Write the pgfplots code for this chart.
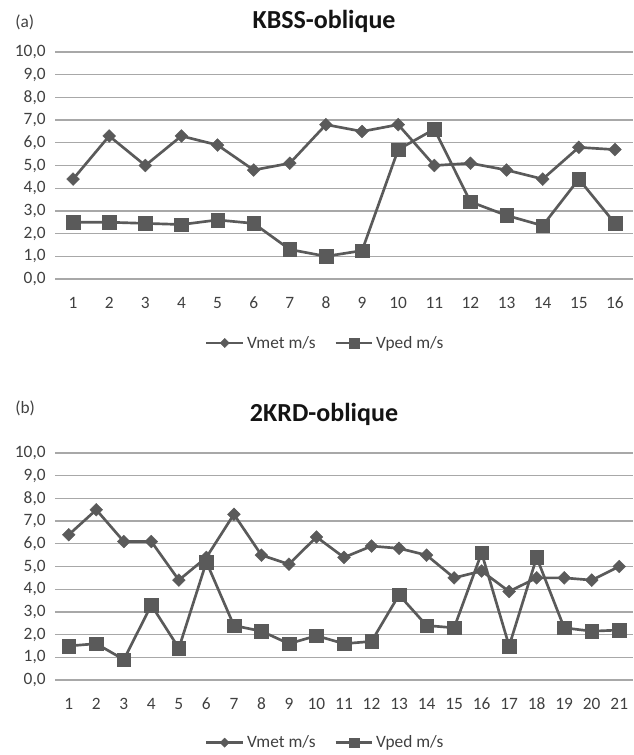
\documentclass[border=0pt]{standalone}
\usepackage{pgfplots}
\pgfplotsset{compat=1.18}
\usepackage{fontspec}
\setmainfont{Carlito}

\definecolor{serie}{HTML}{5A5A5A}
\definecolor{grille}{HTML}{A8A8A8}
\definecolor{texte}{HTML}{404040}

% KBSS-oblique
\pgfplotstableread{
n  vmet vped
1  4.4  2.5
2  6.3  2.5
3  5.0  2.45
4  6.3  2.4
5  5.9  2.6
6  4.8  2.45
7  5.1  1.3
8  6.8  1.0
9  6.5  1.25
10 6.8  5.7
11 5.0  6.6
12 5.1  3.4
13 4.8  2.8
14 4.4  2.35
15 5.8  4.4
16 5.7  2.45
}\kbss

% 2KRD-oblique
\pgfplotstableread{
n  vmet vped
1  6.4  1.5
2  7.5  1.6
3  6.1  0.9
4  6.1  3.3
5  4.4  1.4
6  5.4  5.2
7  7.3  2.4
8  5.5  2.15
9  5.1  1.6
10 6.3  1.95
11 5.4  1.6
12 5.9  1.7
13 5.8  3.75
14 5.5  2.4
15 4.5  2.3
16 4.8  5.6
17 3.9  1.5
18 4.5  5.4
19 4.5  2.3
20 4.4  2.15
21 5.0  2.2
}\krd

\pgfplotsset{
  panel/.style={
    scale only axis, anchor=south west,
    width=433.5pt, height=170.25pt,
    ymin=0, ymax=10, ytick={0,1,...,10},
    ymajorgrids, grid style={grille, line width=1pt},
    axis line style={draw=none},
    tick style={draw=none},
    xtick=data,
    enlarge x limits={abs=0.5},
    yticklabel style={/pgf/number format/fixed, /pgf/number format/fixed zerofill,
      /pgf/number format/precision=1, /pgf/number format/use comma},
    /pgf/number format/assume math mode=true,
    ticklabel style={font=\fontsize{13}{15}\selectfont, text=texte},
    xticklabel style={anchor=center, yshift=-17.8pt},
    yticklabel style={anchor=east, xshift=-3.5pt},
    legend columns=2,
    legend style={draw=none, fill=none, font=\fontsize{13}{15}\selectfont,
      text=texte, anchor=center, inner sep=0pt,
      nodes={inner xsep=2pt},
      /tikz/every even column/.append style={column sep=12pt}},
    legend image code/.code={
      \draw[##1, mark repeat=2, mark phase=2, every mark/.append style={scale=0.72}]
        plot coordinates {(0pt,0pt) (13.75pt,0pt) (27.5pt,0pt)};},
  },
  metline/.style={serie, line width=2pt, mark=square*, mark size=3.4pt,
    mark options={solid, rotate=45, fill=serie, draw=serie, line width=0.3pt}},
  pedline/.style={serie, line width=2pt, mark=square*, mark size=5.1pt,
    mark options={solid, fill=serie, draw=serie, line width=0.3pt}},
}

\begin{document}
\begin{tikzpicture}
\useasboundingbox (0,0) rectangle (474.75pt,-566.25pt);

% panel (a)
\begin{axis}[panel, at={(41.25pt,-209.25pt)}, xmin=1, xmax=16,
    legend style={at={(0.468,-0.282)}}]
  \addplot[metline] table[x=n, y=vmet] {\kbss};
  \addplot[pedline] table[x=n, y=vped] {\kbss};
  \legend{Vmet m/s, Vped m/s}
\end{axis}
\node[anchor=base, font=\fontsize{19.5}{22}\selectfont\bfseries, text=black!92] at (243pt,-21.2pt) {KBSS-oblique};
\node[anchor=base west, inner sep=0pt, font=\fontsize{13}{15}\selectfont, text=texte] at (11.25pt,-20.6pt) {(a)};

% panel (b)
\begin{axis}[panel, at={(41.25pt,-510pt)}, xmin=1, xmax=21,
    legend style={at={(0.468,-0.276)}}]
  \addplot[metline] table[x=n, y=vmet] {\krd};
  \addplot[pedline] table[x=n, y=vped] {\krd};
  \legend{Vmet m/s, Vped m/s}
\end{axis}
\node[anchor=base, font=\fontsize{19.5}{22}\selectfont\bfseries, text=black!92] at (243pt,-316pt) {2KRD-oblique};
\node[anchor=base west, inner sep=0pt, font=\fontsize{13}{15}\selectfont, text=texte] at (11.25pt,-310pt) {(b)};
\end{tikzpicture}
\end{document}
